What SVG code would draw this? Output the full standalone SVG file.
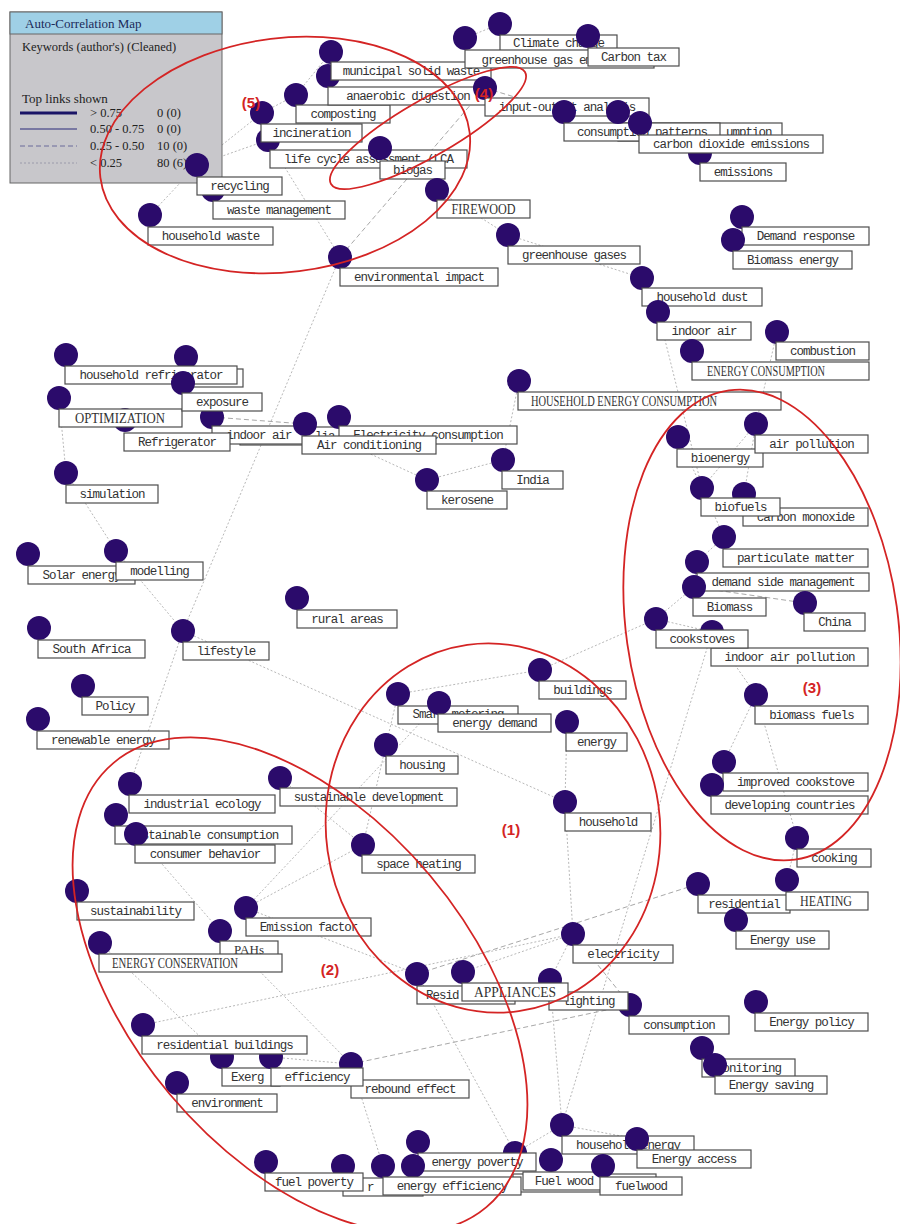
<svg xmlns="http://www.w3.org/2000/svg" width="900" height="1224" viewBox="0 0 900 1224">
<style>
.c{fill:#2b0b6b}
.b{fill:#fff;stroke:#4d4d4d;stroke-width:1.2}
.t{font-family:"Liberation Mono",monospace;font-size:12.5px;letter-spacing:-1px;fill:#333;text-anchor:middle}
.s{font-family:"Liberation Mono",monospace;font-size:12.5px;letter-spacing:-1px;fill:#333}
.u{font-family:"Liberation Serif",serif;font-size:14.5px;fill:#333;text-anchor:middle}
.lk{stroke:#b8b8b8;stroke-width:1;stroke-dasharray:2 2;fill:none}
.ld{stroke:#a8a8a8;stroke-width:1;stroke-dasharray:5 3;fill:none}
.el{fill:none;stroke:#d42424;stroke-width:1.8}
.rl{font-family:"Liberation Sans",sans-serif;font-size:15px;font-weight:bold;fill:#d42424;text-anchor:middle}
.lg{font-family:"Liberation Serif",serif;font-size:12.5px;fill:#222}
</style>
<rect width="900" height="1224" fill="#fff"/>
<g id="connectors">
<line class="lk" x1="150" y1="215" x2="197" y2="165"/>
<line class="lk" x1="197" y1="165" x2="262" y2="113"/>
<line class="lk" x1="262" y1="113" x2="296" y2="95"/>
<line class="lk" x1="296" y1="95" x2="331" y2="52"/>
<line class="lk" x1="197" y1="165" x2="268" y2="140"/>
<line class="lk" x1="268" y1="140" x2="340" y2="257"/>
<line class="lk" x1="340" y1="257" x2="183" y2="631"/>
<line class="ld" x1="485" y1="88" x2="340" y2="257"/>
<line class="lk" x1="500" y1="24" x2="465" y2="38"/>
<line class="ld" x1="485" y1="88" x2="564" y2="112"/>
<line class="lk" x1="437" y1="190" x2="508" y2="235"/>
<line class="lk" x1="508" y1="235" x2="642" y2="278"/>
<line class="lk" x1="642" y1="278" x2="658" y2="312"/>
<line class="lk" x1="658" y1="312" x2="702" y2="488"/>
<line class="lk" x1="777" y1="332" x2="756" y2="424"/>
<line class="lk" x1="519" y1="381" x2="503" y2="460"/>
<line class="lk" x1="503" y1="460" x2="427" y2="480"/>
<line class="lk" x1="427" y1="480" x2="305" y2="424"/>
<line class="ld" x1="212" y1="417" x2="305" y2="424"/>
<line class="lk" x1="183" y1="383" x2="212" y2="417"/>
<line class="lk" x1="59" y1="398" x2="66" y2="473"/>
<line class="lk" x1="66" y1="473" x2="116" y2="551"/>
<line class="lk" x1="116" y1="551" x2="183" y2="631"/>
<line class="lk" x1="183" y1="631" x2="130" y2="784"/>
<line class="lk" x1="183" y1="631" x2="565" y2="802"/>
<line class="lk" x1="398" y1="694" x2="540" y2="670"/>
<line class="lk" x1="540" y1="670" x2="656" y2="619"/>
<line class="lk" x1="398" y1="694" x2="386" y2="745"/>
<line class="lk" x1="386" y1="745" x2="363" y2="845"/>
<line class="lk" x1="439" y1="703" x2="246" y2="908"/>
<line class="lk" x1="567" y1="722" x2="565" y2="802"/>
<line class="lk" x1="565" y1="802" x2="573" y2="934"/>
<line class="lk" x1="573" y1="934" x2="550" y2="980"/>
<line class="lk" x1="573" y1="934" x2="463" y2="972"/>
<line class="ld" x1="573" y1="934" x2="630" y2="1005"/>
<line class="ld" x1="417" y1="974" x2="698" y2="884"/>
<line class="lk" x1="246" y1="908" x2="417" y2="974"/>
<line class="lk" x1="246" y1="908" x2="363" y2="845"/>
<line class="lk" x1="136" y1="834" x2="220" y2="931"/>
<line class="lk" x1="100" y1="943" x2="222" y2="1057"/>
<line class="lk" x1="220" y1="931" x2="351" y2="1064"/>
<line class="lk" x1="271" y1="1057" x2="351" y2="1064"/>
<line class="lk" x1="351" y1="1064" x2="383" y2="1166"/>
<line class="ld" x1="351" y1="1064" x2="630" y2="1005"/>
<line class="lk" x1="143" y1="1025" x2="573" y2="934"/>
<line class="lk" x1="417" y1="974" x2="515" y2="1153"/>
<line class="lk" x1="550" y1="980" x2="562" y2="1125"/>
<line class="lk" x1="712" y1="632" x2="562" y2="1125"/>
<line class="lk" x1="678" y1="437" x2="702" y2="488"/>
<line class="lk" x1="756" y1="424" x2="744" y2="494"/>
<line class="lk" x1="756" y1="424" x2="702" y2="488"/>
<line class="lk" x1="702" y1="488" x2="724" y2="537"/>
<line class="lk" x1="724" y1="537" x2="697" y2="562"/>
<line class="lk" x1="697" y1="562" x2="694" y2="587"/>
<line class="lk" x1="694" y1="587" x2="656" y2="619"/>
<line class="ld" x1="694" y1="587" x2="805" y2="603"/>
<line class="lk" x1="656" y1="619" x2="712" y2="632"/>
<line class="lk" x1="712" y1="632" x2="756" y2="695"/>
<line class="lk" x1="756" y1="695" x2="724" y2="762"/>
<line class="lk" x1="756" y1="695" x2="797" y2="838"/>
<line class="lk" x1="797" y1="838" x2="787" y2="880"/>
<line class="lk" x1="562" y1="1125" x2="637" y2="1139"/>
<line class="lk" x1="562" y1="1125" x2="515" y2="1153"/>
<line class="lk" x1="280" y1="778" x2="363" y2="845"/>
</g>
<g id="legend">
<rect x="10" y="12" width="212" height="171" fill="#c8c7cb" stroke="#666" stroke-width="1"/>
<rect x="10" y="12" width="212" height="22" fill="#9fd0e6" stroke="#666" stroke-width="1"/>
<text class="lg" x="25" y="28" style="font-size:13px;fill:#1b2a5a">Auto-Correlation Map</text>
<text class="lg" x="22" y="51">Keywords (author's) (Cleaned)</text>
<text class="lg" x="22" y="103" style="font-size:13px">Top links shown</text>
<line x1="20" y1="113" x2="77" y2="113" stroke="#1a1466" stroke-width="3"/>
<line x1="20" y1="129" x2="77" y2="129" stroke="#2a2a7a" stroke-width="1.2"/>
<line x1="20" y1="146" x2="77" y2="146" stroke="#6a6a9a" stroke-width="1" stroke-dasharray="5 3"/>
<line x1="20" y1="163" x2="77" y2="163" stroke="#9a9aaa" stroke-width="1" stroke-dasharray="2 2"/>
<text class="lg" x="90" y="117">&gt; 0.75</text><text class="lg" x="157" y="117">0 (0)</text>
<text class="lg" x="90" y="133">0.50 - 0.75</text><text class="lg" x="157" y="133">0 (0)</text>
<text class="lg" x="90" y="150">0.25 - 0.50</text><text class="lg" x="157" y="150">10 (0)</text>
<text class="lg" x="90" y="167">&lt; 0.25</text><text class="lg" x="157" y="167">80 (6)</text>
</g>
<g id="n-household-waste"><circle class="c" cx="150" cy="215" r="12"/><rect class="b" x="148" y="227" width="125" height="18"/><text class="t" x="210.5" y="240">household waste</text></g>
<g id="n-waste-management"><circle class="c" cx="213" cy="190" r="12"/><rect class="b" x="213" y="201" width="132" height="18"/><text class="t" x="279" y="214">waste management</text></g>
<g id="n-recycling"><circle class="c" cx="197" cy="165" r="12"/><rect class="b" x="197" y="177" width="85" height="18"/><text class="t" x="239.5" y="190">recycling</text></g>
<g id="n-life-cycle"><circle class="c" cx="268" cy="140" r="12"/><rect class="b" x="270" y="150" width="197" height="18"/><text class="t" x="368.5" y="163">life cycle assessment (LCA</text></g>
<g id="n-incineration"><circle class="c" cx="262" cy="113" r="12"/><rect class="b" x="261" y="124" width="101" height="18"/><text class="t" x="311.5" y="137">incineration</text></g>
<g id="n-composting"><circle class="c" cx="296" cy="95" r="12"/><rect class="b" x="296" y="105" width="94" height="18"/><text class="t" x="343" y="118">composting</text></g>
<g id="n-anaerobic"><circle class="c" cx="328" cy="76" r="12"/><rect class="b" x="328" y="87" width="160" height="18"/><text class="t" x="408" y="100">anaerobic digestion</text></g>
<g id="n-municipal"><circle class="c" cx="331" cy="52" r="12"/><rect class="b" x="331" y="62" width="160" height="18"/><text class="t" x="411" y="75">municipal solid waste</text></g>
<g id="n-biogas"><circle class="c" cx="380" cy="148" r="12"/><rect class="b" x="380" y="161" width="65" height="18"/><text class="t" x="412.5" y="174">biogas</text></g>
<g id="n-firewood"><circle class="c" cx="437" cy="190" r="12"/><rect class="b" x="437" y="200" width="93" height="18"/><text class="u" x="483.5" y="214" textLength="64" lengthAdjust="spacingAndGlyphs">FIREWOOD</text></g>
<g id="n-environmental-impact"><circle class="c" cx="340" cy="257" r="12"/><rect class="b" x="340" y="268" width="158" height="18"/><text class="t" x="419" y="281">environmental impact</text></g>
<g id="n-greenhouse-gases"><circle class="c" cx="508" cy="235" r="12"/><rect class="b" x="508" y="246" width="132" height="18"/><text class="t" x="574" y="259">greenhouse gases</text></g>
<g id="n-climate-change"><circle class="c" cx="500" cy="24" r="12"/><rect class="b" x="500" y="35" width="117" height="18"/><text class="t" x="558.5" y="47">Climate change</text></g>
<g id="n-ghg-emissions"><circle class="c" cx="465" cy="38" r="12"/><rect class="b" x="465" y="50" width="189" height="18"/><text class="t" x="559.5" y="64">greenhouse gas emissions</text></g>
<g id="n-carbon-tax"><circle class="c" cx="588" cy="36" r="12"/><rect class="b" x="588" y="48" width="91" height="18"/><text class="t" x="633.5" y="61">Carbon tax</text></g>
<g id="n-input-output"><circle class="c" cx="485" cy="88" r="12"/><rect class="b" x="485" y="98" width="164" height="18"/><text class="t" x="567" y="111">input-output analysis</text></g>
<g id="n-household-consumption"><rect class="b" x="618" y="123" width="164" height="18"/><text class="s" x="726" y="136">umption</text></g>
<g id="n-consumption-patterns"><circle class="c" cx="564" cy="112" r="12"/><rect class="b" x="564" y="123" width="156" height="18"/><text class="t" x="642" y="136">consumption patterns</text><circle class="c" cx="618" cy="112" r="12"/></g>
<g id="n-emissions"><circle class="c" cx="700" cy="153" r="12"/><rect class="b" x="700" y="163" width="86" height="18"/><text class="t" x="743" y="176">emissions</text></g>
<g id="n-co2"><circle class="c" cx="640" cy="123" r="12"/><rect class="b" x="639" y="135" width="184" height="18"/><text class="t" x="731" y="148">carbon dioxide emissions</text></g>
<g id="n-demand-response"><circle class="c" cx="742" cy="217" r="12"/><rect class="b" x="742" y="227" width="127" height="18"/><text class="t" x="805.5" y="240">Demand response</text></g>
<g id="n-biomass-energy"><circle class="c" cx="733" cy="240" r="12"/><rect class="b" x="733" y="251" width="119" height="18"/><text class="t" x="792.5" y="264">Biomass energy</text></g>
<g id="n-household-dust"><circle class="c" cx="642" cy="278" r="12"/><rect class="b" x="642" y="288" width="120" height="18"/><text class="t" x="702" y="301">household dust</text></g>
<g id="n-indoor-air-r"><circle class="c" cx="658" cy="312" r="12"/><rect class="b" x="657" y="322" width="94" height="18"/><text class="t" x="704" y="335">indoor air</text></g>
<g id="n-combustion"><circle class="c" cx="777" cy="332" r="12"/><rect class="b" x="776" y="342" width="93" height="18"/><text class="t" x="822.5" y="355">combustion</text></g>
<g id="n-energy-consumption"><circle class="c" cx="692" cy="351" r="12"/><rect class="b" x="692" y="362" width="177" height="18"/><text class="u" x="766" y="376" textLength="118" lengthAdjust="spacingAndGlyphs">ENERGY CONSUMPTION</text></g>
<g id="n-hec"><circle class="c" cx="519" cy="381" r="12"/><rect class="b" x="518" y="392" width="263" height="18"/><text class="u" x="624" y="406" textLength="186" lengthAdjust="spacingAndGlyphs">HOUSEHOLD ENERGY CONSUMPTION</text></g>
<g id="n-bioenergy"><circle class="c" cx="678" cy="437" r="12"/><rect class="b" x="677" y="449" width="86" height="18"/><text class="t" x="720" y="462">bioenergy</text></g>
<g id="n-air-pollution"><circle class="c" cx="756" cy="424" r="12"/><rect class="b" x="755" y="435" width="113" height="18"/><text class="t" x="811.5" y="448">air pollution</text></g>
<g id="n-carbon-monoxide"><circle class="c" cx="744" cy="494" r="12"/><rect class="b" x="743" y="508" width="125" height="18"/><text class="t" x="805.5" y="521">carbon monoxide</text></g>
<g id="n-biofuels"><circle class="c" cx="702" cy="488" r="12"/><rect class="b" x="701" y="498" width="79" height="18"/><text class="t" x="740.5" y="511">biofuels</text></g>
<g id="n-particulate"><circle class="c" cx="724" cy="537" r="12"/><rect class="b" x="723" y="549" width="145" height="18"/><text class="t" x="795.5" y="562">particulate matter</text></g>
<g id="n-dsm"><circle class="c" cx="697" cy="562" r="12"/><rect class="b" x="697" y="573" width="172" height="18"/><text class="t" x="783" y="586">demand side management</text></g>
<g id="n-biomass"><circle class="c" cx="694" cy="587" r="12"/><rect class="b" x="693" y="598" width="73" height="18"/><text class="t" x="729.5" y="611">Biomass</text></g>
<g id="n-china"><circle class="c" cx="805" cy="603" r="12"/><rect class="b" x="804" y="613" width="61" height="18"/><text class="t" x="834.5" y="626">China</text></g>
<g id="n-iap"><circle class="c" cx="712" cy="632" r="12"/><rect class="b" x="711" y="648" width="157" height="18"/><text class="t" x="789.5" y="661">indoor air pollution</text></g>
<g id="n-cookstoves"><circle class="c" cx="656" cy="619" r="12"/><rect class="b" x="656" y="630" width="92" height="18"/><text class="t" x="702" y="643">cookstoves</text></g>
<g id="n-biomass-fuels"><circle class="c" cx="756" cy="695" r="12"/><rect class="b" x="755" y="706" width="113" height="18"/><text class="t" x="811.5" y="719">biomass fuels</text></g>
<g id="n-improved-cookstove"><circle class="c" cx="724" cy="762" r="12"/><rect class="b" x="723" y="773" width="145" height="18"/><text class="t" x="795.5" y="786">improved cookstove</text></g>
<g id="n-developing"><circle class="c" cx="712" cy="785" r="12"/><rect class="b" x="711" y="796" width="157" height="18"/><text class="t" x="789.5" y="809">developing countries</text></g>
<g id="n-cooking"><circle class="c" cx="797" cy="838" r="12"/><rect class="b" x="797" y="849" width="74" height="18"/><text class="t" x="834" y="862">cooking</text></g>
<g id="n-residential-r"><circle class="c" cx="698" cy="884" r="12"/><rect class="b" x="698" y="895" width="92" height="18"/><text class="t" x="744" y="908">residential</text></g>
<g id="n-heating"><circle class="c" cx="787" cy="880" r="12"/><rect class="b" x="786" y="892" width="82" height="18"/><text class="u" x="826" y="906" textLength="52" lengthAdjust="spacingAndGlyphs">HEATING</text></g>
<g id="n-energy-use"><circle class="c" cx="736" cy="920" r="12"/><rect class="b" x="736" y="931" width="93" height="18"/><text class="t" x="782.5" y="944">Energy use</text></g>
<g id="n-energy-policy"><circle class="c" cx="756" cy="1002" r="12"/><rect class="b" x="755" y="1013" width="113" height="18"/><text class="t" x="811.5" y="1026">Energy policy</text></g>
<g id="n-consumption"><circle class="c" cx="630" cy="1005" r="12"/><rect class="b" x="629" y="1016" width="100" height="18"/><text class="t" x="679" y="1029">consumption</text></g>
<g id="n-monitoring"><circle class="c" cx="702" cy="1048" r="12"/><rect class="b" x="702" y="1059" width="93" height="18"/><text class="t" x="748.5" y="1072">monitoring</text></g>
<g id="n-energy-saving"><circle class="c" cx="715" cy="1065" r="12"/><rect class="b" x="715" y="1076" width="112" height="18"/><text class="t" x="771" y="1089">Energy saving</text></g>
<g id="n-electricity"><circle class="c" cx="573" cy="934" r="12"/><rect class="b" x="573" y="945" width="100" height="18"/><text class="t" x="623" y="958">electricity</text></g>
<g id="n-lighting"><circle class="c" cx="550" cy="980" r="12"/><rect class="b" x="549" y="992" width="79" height="18"/><text class="t" x="588.5" y="1005">lighting</text></g>
<g id="n-residential-l"><circle class="c" cx="417" cy="974" r="12"/><rect class="b" x="417" y="986" width="98" height="18"/><text class="s" x="426" y="999">Resid</text></g>
<g id="n-appliances"><circle class="c" cx="463" cy="972" r="12"/><rect class="b" x="462" y="983" width="106" height="18"/><text class="u" x="515" y="997" textLength="82" lengthAdjust="spacingAndGlyphs">APPLIANCES</text></g>
<g id="n-household-energy"><circle class="c" cx="562" cy="1125" r="12"/><rect class="b" x="562" y="1136" width="132" height="18"/><text class="t" x="628" y="1149">household energy</text></g>
<g id="n-energy-access"><circle class="c" cx="637" cy="1139" r="12"/><rect class="b" x="637" y="1150" width="114" height="18"/><text class="t" x="694" y="1163">Energy access</text></g>
<g id="n-hidden-z"><circle class="c" cx="515" cy="1153" r="12"/><rect class="b" x="513" y="1174" width="143" height="18"/></g>
<g id="n-fuel-wood"><circle class="c" cx="551" cy="1160" r="12"/><rect class="b" x="523" y="1172" width="82" height="18"/><text class="t" x="564" y="1185">Fuel wood</text></g>
<g id="n-fuelwood"><circle class="c" cx="603" cy="1166" r="12"/><rect class="b" x="600" y="1177" width="82" height="18"/><text class="t" x="641" y="1190">fuelwood</text></g>
<g id="n-energy-poverty"><circle class="c" cx="418" cy="1142" r="12"/><rect class="b" x="418" y="1153" width="118" height="18"/><text class="t" x="477" y="1166">energy poverty</text></g>
<g id="n-hidden-x"><circle class="c" cx="343" cy="1166" r="12"/><rect class="b" x="343" y="1178" width="80" height="18"/><text class="s" x="367" y="1191">r</text></g>
<g id="n-fuel-poverty"><circle class="c" cx="266" cy="1162" r="12"/><rect class="b" x="265" y="1173" width="98" height="18"/><text class="t" x="314" y="1186">fuel poverty</text></g>
<g id="n-hidden-y"><circle class="c" cx="413" cy="1166" r="12"/></g>
<g id="n-energy-efficiency"><circle class="c" cx="383" cy="1166" r="12"/><rect class="b" x="383" y="1177" width="138" height="18"/><text class="t" x="452" y="1190">energy efficiency</text></g>
<g id="n-rebound"><circle class="c" cx="351" cy="1064" r="12"/><rect class="b" x="351" y="1080" width="118" height="18"/><text class="t" x="410" y="1093">rebound effect</text></g>
<g id="n-exergy"><circle class="c" cx="222" cy="1057" r="12"/><rect class="b" x="222" y="1068" width="58" height="18"/><text class="s" x="231" y="1081">Exerg</text></g>
<g id="n-efficiency"><circle class="c" cx="271" cy="1057" r="12"/><rect class="b" x="271" y="1068" width="92" height="18"/><text class="t" x="317" y="1081">efficiency</text></g>
<g id="n-environment"><circle class="c" cx="177" cy="1083" r="12"/><rect class="b" x="177" y="1094" width="100" height="18"/><text class="t" x="227" y="1107">environment</text></g>
<g id="n-residential-buildings"><circle class="c" cx="143" cy="1025" r="12"/><rect class="b" x="142" y="1036" width="165" height="18"/><text class="t" x="224.5" y="1049">residential buildings</text></g>
<g id="n-emission-factor"><circle class="c" cx="246" cy="908" r="12"/><rect class="b" x="246" y="918" width="125" height="18"/><text class="t" x="308.5" y="931">Emission factor</text></g>
<g id="n-pahs"><circle class="c" cx="220" cy="931" r="12"/><rect class="b" x="220" y="941" width="58" height="18"/><text class="u" x="249" y="954" style="font-size:13px">PAHs</text></g>
<g id="n-energy-conservation"><circle class="c" cx="100" cy="943" r="12"/><rect class="b" x="99" y="954" width="183" height="18"/><text class="u" x="175" y="968" textLength="126" lengthAdjust="spacingAndGlyphs">ENERGY CONSERVATION</text></g>
<g id="n-sustainability"><circle class="c" cx="77" cy="891" r="12"/><rect class="b" x="77" y="902" width="117" height="18"/><text class="t" x="135.5" y="915">sustainability</text></g>
<g id="n-industrial-ecology"><circle class="c" cx="130" cy="784" r="12"/><rect class="b" x="129" y="795" width="146" height="18"/><text class="t" x="202" y="808">industrial ecology</text></g>
<g id="n-sustainable-consumption"><circle class="c" cx="116" cy="815" r="12"/><rect class="b" x="115" y="826" width="177" height="18"/><text class="t" x="203.5" y="839">sustainable consumption</text></g>
<g id="n-consumer-behavior"><circle class="c" cx="136" cy="834" r="12"/><rect class="b" x="135" y="845" width="140" height="18"/><text class="t" x="205" y="858">consumer behavior</text></g>
<g id="n-sustainable-development"><circle class="c" cx="280" cy="778" r="12"/><rect class="b" x="280" y="788" width="177" height="18"/><text class="t" x="368.5" y="801">sustainable development</text></g>
<g id="n-space-heating"><circle class="c" cx="363" cy="845" r="12"/><rect class="b" x="362" y="855" width="113" height="18"/><text class="t" x="418.5" y="868">space heating</text></g>
<g id="n-household"><circle class="c" cx="565" cy="802" r="12"/><rect class="b" x="565" y="813" width="86" height="18"/><text class="t" x="608" y="826">household</text></g>
<g id="n-housing"><circle class="c" cx="386" cy="745" r="12"/><rect class="b" x="386" y="756" width="72" height="18"/><text class="t" x="422" y="769">housing</text></g>
<g id="n-smart-metering"><circle class="c" cx="398" cy="694" r="12"/><rect class="b" x="398" y="706" width="120" height="18"/><text class="t" x="458" y="718">Smart metering</text></g>
<g id="n-energy-demand"><circle class="c" cx="439" cy="703" r="12"/><rect class="b" x="438" y="714" width="113" height="18"/><text class="t" x="494.5" y="727">energy demand</text></g>
<g id="n-buildings"><circle class="c" cx="540" cy="670" r="12"/><rect class="b" x="539" y="681" width="87" height="18"/><text class="t" x="582.5" y="694">buildings</text></g>
<g id="n-energy"><circle class="c" cx="567" cy="722" r="12"/><rect class="b" x="566" y="733" width="61" height="18"/><text class="t" x="596.5" y="746">energy</text></g>
<g id="n-renewable"><circle class="c" cx="38" cy="719" r="12"/><rect class="b" x="37" y="731" width="132" height="18"/><text class="t" x="103" y="744">renewable energy</text></g>
<g id="n-policy"><circle class="c" cx="83" cy="686" r="12"/><rect class="b" x="82" y="697" width="66" height="18"/><text class="t" x="115" y="710">Policy</text></g>
<g id="n-south-africa"><circle class="c" cx="39" cy="628" r="12"/><rect class="b" x="38" y="640" width="107" height="18"/><text class="t" x="91.5" y="653">South Africa</text></g>
<g id="n-lifestyle"><circle class="c" cx="183" cy="631" r="12"/><rect class="b" x="183" y="642" width="86" height="18"/><text class="t" x="226" y="655">lifestyle</text></g>
<g id="n-rural-areas"><circle class="c" cx="297" cy="598" r="12"/><rect class="b" x="297" y="610" width="100" height="18"/><text class="t" x="347" y="623">rural areas</text></g>
<g id="n-solar"><circle class="c" cx="28" cy="554" r="12"/><rect class="b" x="28" y="566" width="107" height="18"/><text class="t" x="81.5" y="579">Solar energy</text></g>
<g id="n-modelling"><circle class="c" cx="116" cy="551" r="12"/><rect class="b" x="116" y="562" width="87" height="18"/><text class="t" x="159.5" y="575">modelling</text></g>
<g id="n-simulation"><circle class="c" cx="66" cy="473" r="12"/><rect class="b" x="66" y="485" width="92" height="18"/><text class="t" x="112" y="498">simulation</text></g>
<g id="n-india"><circle class="c" cx="503" cy="460" r="12"/><rect class="b" x="502" y="471" width="61" height="18"/><text class="t" x="532.5" y="484">India</text></g>
<g id="n-kerosene"><circle class="c" cx="427" cy="480" r="12"/><rect class="b" x="427" y="491" width="80" height="18"/><text class="t" x="467" y="504">kerosene</text></g>
<g id="n-lia"><rect class="b" x="240" y="427" width="100" height="18"/><text class="s" x="315" y="440">lia</text></g>
<g id="n-indoor-air-l"><circle class="c" cx="212" cy="417" r="12"/><rect class="b" x="212" y="426" width="94" height="18"/><text class="t" x="259" y="439">indoor air</text></g>
<g id="n-electricity-consumption"><circle class="c" cx="339" cy="417" r="12"/><rect class="b" x="339" y="426" width="178" height="18"/><text class="t" x="428" y="439">Electricity consumption</text></g>
<g id="n-air-conditioning"><circle class="c" cx="305" cy="424" r="12"/><rect class="b" x="302" y="436" width="134" height="18"/><text class="t" x="369" y="449">Air conditioning</text></g>
<g id="n-hidden-fridge"><circle class="c" cx="186" cy="357" r="12"/><rect class="b" x="180" y="369" width="63" height="18"/></g>
<g id="n-household-refrigerator"><circle class="c" cx="66" cy="355" r="12"/><rect class="b" x="65" y="366" width="172" height="18"/><text class="t" x="151" y="379">household refrigerator</text></g>
<g id="n-refrigerator"><circle class="c" cx="125" cy="420" r="12"/><rect class="b" x="124" y="433" width="106" height="18"/><text class="t" x="177" y="446">Refrigerator</text></g>
<g id="n-optimization"><circle class="c" cx="59" cy="398" r="12"/><rect class="b" x="59" y="409" width="123" height="18"/><text class="u" x="120" y="423" textLength="90" lengthAdjust="spacingAndGlyphs">OPTIMIZATION</text></g>
<g id="n-exposure"><circle class="c" cx="183" cy="383" r="12"/><rect class="b" x="182" y="393" width="80" height="18"/><text class="t" x="222" y="406">exposure</text></g>
<g id="clusters">
<ellipse class="el" cx="285" cy="155" rx="186" ry="117" transform="rotate(-7 285 155)"/>
<ellipse class="el" cx="428" cy="128" rx="112" ry="28" transform="rotate(-30 428 128)"/>
<ellipse class="el" cx="493" cy="828" rx="167" ry="185" transform="rotate(-8 493 828)"/>
<ellipse class="el" cx="300" cy="985" rx="290" ry="170" transform="rotate(50 300 985)"/>
<ellipse class="el" cx="762" cy="625" rx="136" ry="237" transform="rotate(-8 762 625)"/>
<text class="rl" x="251" y="108">(5)</text>
<text class="rl" x="484" y="99">(4)</text>
<text class="rl" x="511" y="835">(1)</text>
<text class="rl" x="330" y="975">(2)</text>
<text class="rl" x="812" y="693">(3)</text>
</g>
</svg>
